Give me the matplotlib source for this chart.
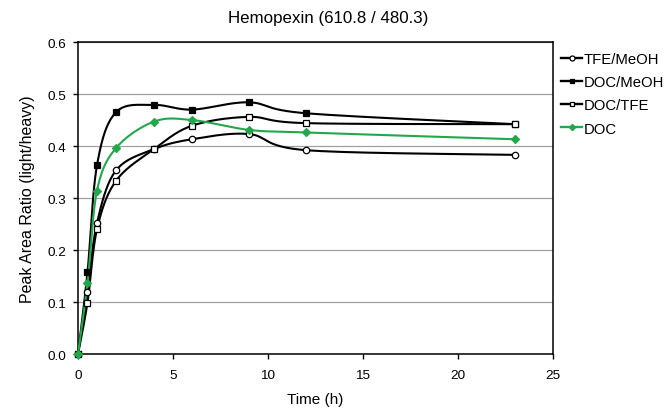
import numpy as np
import matplotlib
matplotlib.use("Agg")
import matplotlib.pyplot as plt
from matplotlib.lines import Line2D

plt.rcParams['font.family'] = ['Liberation Sans', 'DejaVu Sans']

# ---- data ----
time_h = [0, 0.5, 1, 2, 4, 6, 9, 12, 23]
tfe_meoh = [0.0, 0.12, 0.252, 0.353, 0.394, 0.413, 0.423, 0.392, 0.383]
doc_meoh = [0.0, 0.157, 0.363, 0.465, 0.479, 0.470, 0.484, 0.463, 0.442]
doc_tfe = [0.0, 0.099, 0.240, 0.333, 0.394, 0.439, 0.456, 0.444, 0.442]
doc = [0.0, 0.136, 0.314, 0.396, 0.447, 0.450, 0.431, 0.426, 0.413]

GREEN = '#22a84a'


def smooth(x, y, n=30):
    """Excel-style smoothed line: cubic Bezier through points, Catmull-Rom handles."""
    x = np.asarray(x, float)
    y = np.asarray(y, float)
    p = np.column_stack([x, y])
    out = []
    t = np.linspace(0, 1, n)[:, None]
    for i in range(len(p) - 1):
        p0 = p[i - 1] if i > 0 else p[i]
        p1, p2 = p[i], p[i + 1]
        p3 = p[i + 2] if i + 2 < len(p) else p[i + 1]
        c1 = p1 + (p2 - p0) / 6.0
        c2 = p2 - (p3 - p1) / 6.0
        seg = ((1 - t) ** 3) * p1 + 3 * ((1 - t) ** 2) * t * c1 + 3 * (1 - t) * t ** 2 * c2 + t ** 3 * p2
        out.append(seg if i == 0 else seg[1:])
    s = np.vstack(out)
    return s[:, 0], s[:, 1]


fig = plt.figure(figsize=(6.7, 4.14), dpi=100)
ax = fig.add_axes([0.1164, 0.1425, 0.709, 0.7536])

series = [
    ('TFE/MeOH', tfe_meoh, 'k', 'o', 'white'),
    ('DOC/MeOH', doc_meoh, 'k', 's', 'black'),
    ('DOC/TFE', doc_tfe, 'k', 's', 'white'),
    ('DOC', doc, GREEN, 'D', GREEN),
]

handles = []
for name, vals, col, mk, mfc in series:
    sx, sy = smooth(time_h, vals)
    ax.plot(sx, sy, color=col, lw=1.5, zorder=3, clip_on=False)
    ms = 4.2 if mk == 'D' else 4.6
    ax.plot(time_h, vals, ls='none', marker=mk, ms=ms, mfc=mfc, mec=col,
            mew=0.9, zorder=4, clip_on=False)
    handles.append(Line2D([0], [0], color=col, lw=1.7, marker=mk, ms=ms - 1,
                          mfc=mfc, mec=col, mew=0.9))

ax.set_xlim(0, 25)
ax.set_ylim(0, 0.6)
ax.set_xticks([0, 5, 10, 15, 20, 25])
ax.set_yticks(np.arange(0, 0.61, 0.1))
ax.set_yticklabels([f'{v:.1f}' for v in np.arange(0, 0.61, 0.1)])
ax.yaxis.grid(True, color='#a0a0a0', lw=0.9)
ax.set_axisbelow(True)
for sp in ax.spines.values():
    sp.set_color('black')
    sp.set_linewidth(1.1)
ax.tick_params(axis='both', labelsize=9.7, direction='out', length=3.6, width=1)
ax.tick_params(axis='x', pad=7)
ax.tick_params(axis='y', pad=5)

ax.set_xlabel('Time (h)', fontsize=11, labelpad=8)
ax.set_ylabel('Peak Area Ratio (light/heavy)', fontsize=11.5, labelpad=9)
fig.text(0.49, 0.955, 'Hemopexin (610.8 / 480.3)', fontsize=12.2,
         ha='center', va='center')

fig.legend(handles, [s[0] for s in series], loc='upper left',
           bbox_to_anchor=(0.837, 0.872), frameon=False, fontsize=10.7,
           handlelength=1.45, handletextpad=0.1, labelspacing=0.62,
           borderpad=0, borderaxespad=0)

fig.savefig('out.png', dpi=100)
